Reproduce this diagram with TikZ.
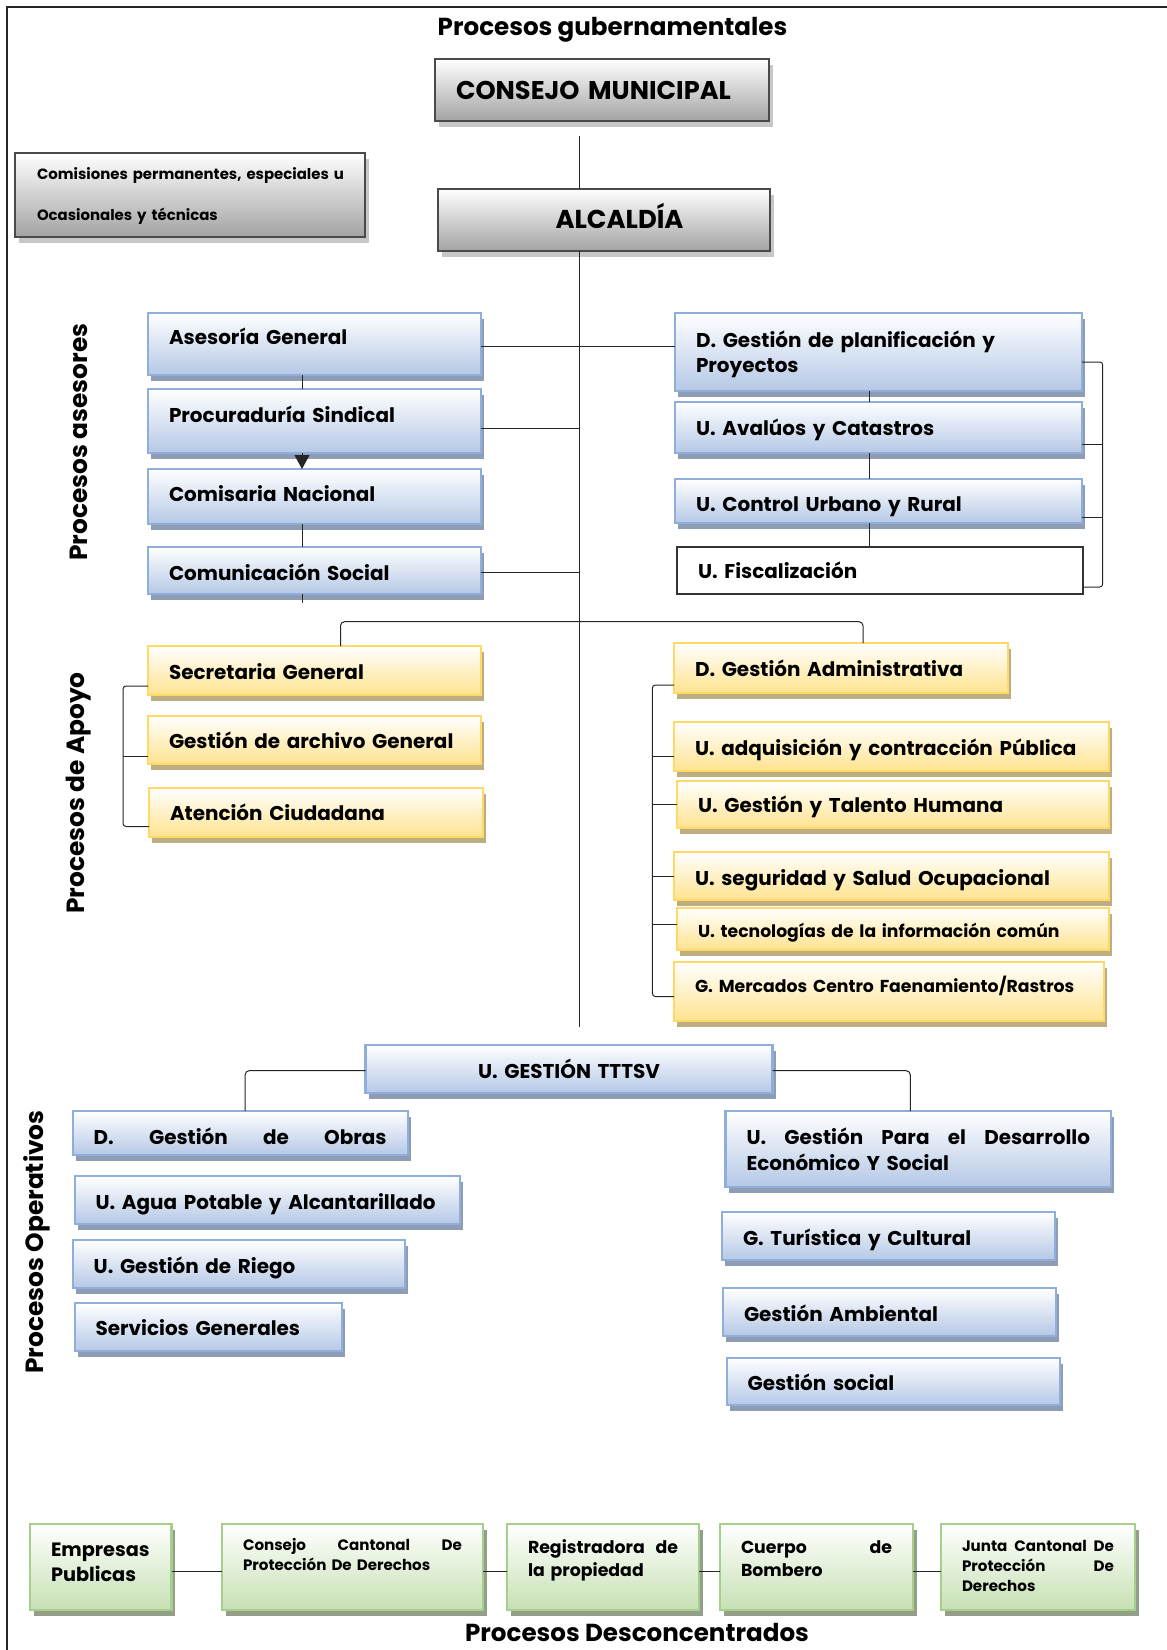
\documentclass[tikz,border=0pt]{standalone}
\usepackage{fontspec}
\setmainfont{Poppins}
\usetikzlibrary{shadows,arrows.meta,calc}
\definecolor{bbord}{HTML}{8FAEDC}
\definecolor{bbot}{HTML}{B5C8E6}
\definecolor{bshad}{HTML}{8E9DB3}
\definecolor{ybord}{HTML}{FFD966}
\definecolor{ybot}{HTML}{FFE38F}
\definecolor{yshad}{HTML}{BDAD80}
\definecolor{gbord}{HTML}{A6CF8C}
\definecolor{gbot}{HTML}{C6E0B4}
\definecolor{gshad}{HTML}{949F8A}
\definecolor{kbord}{HTML}{4A4A4A}
\definecolor{kbot}{HTML}{A3A3A3}
\newcommand\fk{0.95}
\newcommand\fz[2]{\fontsize{\fpeval{#1*\fk}}{#2}\selectfont}
\tikzset{
  conn/.style={draw=black!85, line width=1pt},
  bx/.style={anchor=north west, outer sep=0pt, inner xsep=21pt, inner ysep=0pt, line width=2.2pt, align=left, text=black, font=\bfseries\fz{21}{25}},
  bluebox/.style={bx, draw=bbord, top color=white, bottom color=bbot, drop shadow={shadow xshift=3pt, shadow yshift=-6pt, fill=bshad, opacity=1}},
  yelbox/.style={bx, draw=ybord, top color=white, bottom color=ybot, drop shadow={shadow xshift=3pt, shadow yshift=-6pt, fill=yshad, opacity=1}},
  grnbox/.style={bx, draw=gbord, top color=white, bottom color=gbot, drop shadow={shadow xshift=3.5pt, shadow yshift=-6pt, fill=gshad, opacity=1}},
  graybox/.style={bx, draw=kbord, line width=2.5pt, top color=white, bottom color=kbot, drop shadow={shadow xshift=4pt, shadow yshift=-6pt, fill=black, opacity=0.22}},
  whitebox/.style={bx, draw=black!80, line width=1.3pt, fill=white},
  heading/.style={font=\bfseries\fz{25.9}{30}, inner sep=0pt, text=black},
  sidelabel/.style={font=\bfseries\fz{26.2}{30}, inner sep=0pt, text=black, rotate=90},
}
% [extra]{style}{name}{x1}{y1}{x2}{y2}{first baseline from top}{text}
\newcommand\obox[9][]{%
  \pgfmathsetmacro\obw{#6-#4}%
  \pgfmathsetmacro\obh{#7-#5}%
  \pgfmathsetmacro\obd{#7-#5-#8}%
  \pgfmathsetmacro\obt{#6-#4-42}%
  \node[#2, minimum width=\obw pt, minimum height=\obh pt, text width=\obt pt,
        text height=#8pt, text depth=\obd pt, #1] (#3) at (#4,#5) {#9};%
}
% a justified line: words separated by \hfill, spread over the text width
\newcommand\jl[1]{\leavevmode\hbox to \obt pt{#1}}
\begin{document}
\begin{tikzpicture}[x=1pt,y=-1pt]
\useasboundingbox (0,0) rectangle (1167,1650);
\draw[line width=1.8pt, black!85] (7,1650) -- (7,6.7) -- (1167,6.7);

% headings
\node[heading] (tit) at (612.5,30) {Procesos gubernamentales};
\node[heading, anchor=base] (pdes) at (637,1641) {Procesos Desconcentrados};
\node[sidelabel] (pase) at (78.5,442) {Procesos asesores};
\node[sidelabel] (papo) at (79,793) {Procesos de Apoyo};
\node[sidelabel] (pope) at (37,1242) {Procesos Operativos};

% government
\obox{graybox, font=\bfseries\fz{27}{30}}{cm}{435}{59}{769}{121}{40.2}{CONSEJO MUNICIPAL}
\obox{graybox, font=\bfseries\fz{27.2}{30}}{alc}{438}{189}{770}{251}{39.9}{\hspace*{96.6pt}ALCALDÍA}
\obox[inner xsep=22pt, text width=306pt]{graybox, font=\bfseries\fz{15.7}{40.7}}{cms}{15}{153}{365}{237}{26.5}{\mbox{Comisiones permanentes, especiales u}\\Ocasionales y técnicas}

% asesores
\obox{bluebox}{ase}{148}{313}{481}{375}{31.8}{Asesoría General}
\obox{bluebox}{pro}{148}{389}{481}{453}{33.8}{Procuraduría Sindical}
\obox{bluebox}{cna}{148}{469}{481}{524}{32.8}{Comisaria Nacional}
\obox{bluebox}{cso}{148}{547}{481}{594}{33.8}{Comunicación Social}
\obox{bluebox}{dgp}{675}{313}{1082}{391}{34.8}{D. Gestión de planificación y\\Proyectos}
\obox{bluebox}{ava}{675}{402}{1082}{453}{33.8}{U. Avalúos y Catastros}
\obox{bluebox}{cur}{675}{479}{1082}{523}{32.8}{U. Control Urbano y Rural}
\obox{whitebox}{fis}{677}{547}{1083}{594}{31.8}{U. Fiscalización}

% apoyo
\obox{yelbox}{sec}{148}{646}{481}{695}{33.5}{Secretaria General}
\obox{yelbox}{gar}{148}{716}{481}{764}{32.5}{\mbox{Gestión de archivo General}}
\obox{yelbox}{ate}{149}{788}{483}{837}{32.8}{Atención Ciudadana}
\obox{yelbox}{dga}{674}{643}{1008}{693}{33.8}{D. Gestión Administrativa}
\obox{yelbox}{adq}{674}{722}{1109}{771}{33.5}{\mbox{U. adquisición y contracción Pública}}
\obox{yelbox}{tal}{677}{781}{1109}{828}{31.8}{U. Gestión y Talento Humana}
\obox{yelbox}{seg}{674}{852}{1109}{900}{33.5}{U. seguridad y Salud Ocupacional}
\obox{yelbox, font=\bfseries\fz{18.1}{22}}{tec}{677}{908}{1109}{950}{29.5}{\mbox{U. tecnologías de la información común}}
\obox{yelbox, font=\bfseries\fz{18.2}{22}}{mer}{674}{962}{1104}{1021}{30.5}{\mbox{G. Mercados Centro Faenamiento/Rastros}}

% operativos
\obox[align=center]{bluebox}{ttt}{365.5}{1045}{772.5}{1093}{33.5}{U. GESTIÓN TTTSV}
\obox{bluebox}{obr}{72.7}{1111}{407.6}{1155}{33.5}{\jl{D.\hfill Gestión\hfill de\hfill Obras}}
\obox{bluebox}{agu}{74.6}{1176}{460}{1224}{33.5}{\mbox{U. Agua Potable y Alcantarillado}}
\obox{bluebox}{rie}{72.7}{1240}{405}{1288}{33.8}{U. Gestión de Riego}
\obox{bluebox}{ser}{74.6}{1303}{342}{1351}{32.8}{Servicios Generales}
\obox{bluebox, font=\bfseries\fz{21}{26}}{des}{725.5}{1111}{1111}{1187}{33.5}{\jl{U.\hfill Gestión\hfill Para\hfill el\hfill Desarrollo}\\Económico Y Social}
\obox{bluebox}{tur}{722}{1212}{1054.6}{1260}{33.5}{G. Turística y Cultural}
\obox{bluebox}{amb}{723}{1288}{1055.7}{1336}{33.8}{Gestión Ambiental}
\obox{bluebox}{soc}{726.6}{1358}{1060}{1405}{32.8}{Gestión social}

% desconcentrados
\obox{grnbox, font=\bfseries\fz{20.3}{25}}{emp}{30}{1524}{171.5}{1610}{32.5}{Empresas\\Publicas}
\obox{grnbox, font=\bfseries\fz{15.9}{20}}{cca}{222}{1524}{483}{1610}{26.6}{\jl{Consejo\hfill Cantonal\hfill De}\\Protección De Derechos}
\obox{grnbox, font=\bfseries\fz{18.25}{23}}{reg}{507}{1524}{699}{1610}{29.8}{\jl{Registradora\hfill de}\\la propiedad}
\obox{grnbox, font=\bfseries\fz{18.25}{23}}{cue}{720}{1524}{913}{1610}{29.8}{\jl{Cuerpo\hfill de}\\Bombero}
\obox{grnbox, font=\bfseries\fz{15.9}{20}}{jun}{941}{1524}{1135}{1610}{27.5}{\jl{Junta\hfill Cantonal\hfill De}\\\jl{Protección\hfill De}\\Derechos}

% connectors
\coordinate (t0) at (579,136);
\coordinate (t1) at (579,1027);
\coordinate (jn) at (579,621.7);
\draw[conn] (t0) -- (t0 |- alc.north);
\draw[conn] (t1 |- alc.south) -- (t1);

\draw[conn] ([yshift=-2pt]ase.east) -- ++(194,0);
\draw[conn] ([yshift=-7pt]pro.east) -- ++(98,0);
\draw[conn] ([yshift=-1.5pt]cso.east) -- ++(98,0);
\draw[conn] ([xshift=-12.5pt]ase.south) -- ([xshift=-12.5pt]pro.north);
\draw[conn, -{Triangle[length=14pt,width=15pt]}] ([xshift=-12.5pt]pro.south) -- ([xshift=-12.5pt]cna.north);
\draw[conn] ([xshift=-12.5pt]cna.south) -- ([xshift=-12.5pt]cso.north);
\draw[conn] ([xshift=-12.5pt]cso.south) -- ++(0,9);

\draw[conn] ([xshift=-9.5pt]dgp.south) -- ([xshift=-9.5pt]ava.north);
\draw[conn] ([xshift=-9.5pt]ava.south) -- ([xshift=-9.5pt]cur.north);
\draw[conn] ([xshift=-9.5pt]cur.south) -- ([xshift=-11pt]fis.north);
\draw[conn, rounded corners=3pt] ([yshift=-10pt]dgp.east) -- ++(20.7,0) |- ([yshift=-16.5pt]fis.east);
\draw[conn] ([yshift=-16.5pt]ava.east) -- ++(20.7,0);
\draw[conn] ([yshift=-16pt]cur.east) -- ++(20.7,0);

\draw[conn, rounded corners=4pt] ([xshift=26pt]sec.north) |- (jn) -| ([xshift=22pt]dga.north);
\draw[conn, rounded corners=3pt] ([yshift=-15.5pt]sec.west) -- ++(-25,0) |- ([yshift=-14pt]ate.west);
\draw[conn] ([yshift=-16pt]gar.west) -- ++(-25,0);
\draw[conn, rounded corners=3pt] ([yshift=-17pt]dga.west) -- ++(-21.6,0) |- ([yshift=-5pt]mer.west);
\draw[conn] ([yshift=-10pt]adq.west) -- ++(-21.6,0);
\draw[conn] (tal.west) -- ++(-24.6,0);
\draw[conn] (seg.west) -- ++(-21.6,0);
\draw[conn] ([yshift=5pt]tec.west) -- ++(-24.6,0);

\draw[conn, rounded corners=4pt] ([yshift=-1.7pt]ttt.west) -| ([xshift=5pt]obr.north);
\draw[conn, rounded corners=4pt] ([yshift=-1.7pt]ttt.east) -| ([xshift=-8pt]des.north);

\draw[conn] ([yshift=-4.7pt]emp.east) -- ([yshift=-4.7pt]cca.west);
\draw[conn] ([yshift=-4.7pt]cca.east) -- ([yshift=-4.7pt]reg.west);
\draw[conn] ([yshift=-4.7pt]reg.east) -- ([yshift=-4.7pt]cue.west);
\draw[conn] ([yshift=-4.7pt]cue.east) -- ([yshift=-4.7pt]jun.west);
\end{tikzpicture}
\end{document}
